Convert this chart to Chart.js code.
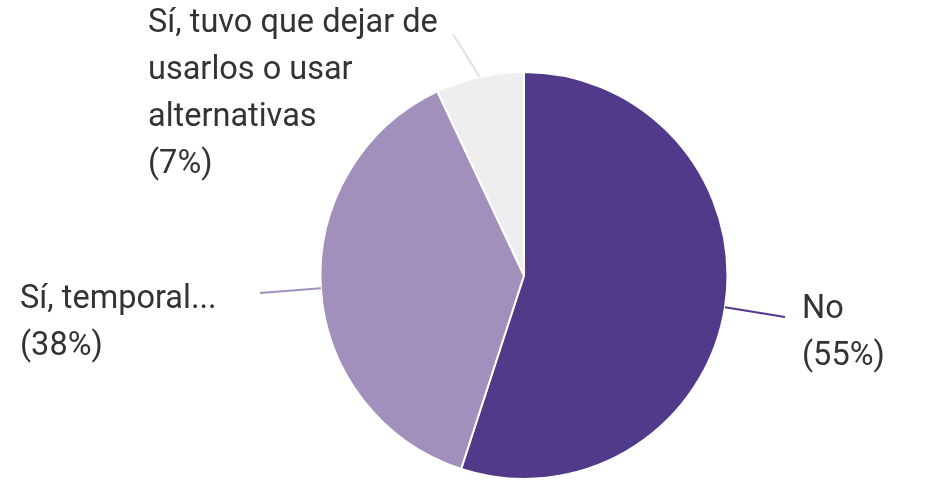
<!DOCTYPE html>
<html>
<head>
<meta charset="utf-8">
<script src="https://cdn.jsdelivr.net/npm/chart.js@4"></script>
<style>
    html, body { margin: 0; padding: 0; background: #fff; }
    #wrap { width: 948px; height: 480px; position: relative; }
</style>
</head>
<body>
<div id="wrap"><canvas id="pie"></canvas></div>
<script>
const labels = ['No', 'Sí, temporal...', 'Sí, tuvo que dejar de usarlos o usar alternativas'];
const values = [55, 38, 7];
const labelLines = [
    ['No', '(55%)'],
    ['Sí, temporal...', '(38%)'],
    ['Sí, tuvo que dejar de', 'usarlos o usar', 'alternativas', '(7%)']
];

const colors = [
    '#523a8a', // no
    '#a18fbc', // temporal
    '#eeeeee', // dejar de usarlos
];
const lineColors = ['#523a8a', '#a18fbc', '#e2e2e2'];

// where each label text block starts (x, first baseline) and where its leader ends
const textPos = [
    { x: 802, y: 318, endX: 785, endY: 317 },
    { x: 20, y: 308, endX: 260, endY: 293 },
    { x: 148, y: 32, endX: 453, endY: 34 }
];

const outerLabels = {
    id: 'outerLabels',
    afterDraw(chart) {
        const ctx = chart.ctx;
        const arcs = chart.getDatasetMeta(0).data;
        ctx.save();
        arcs.forEach((arc, i) => {
            const mid = (arc.startAngle + arc.endAngle) / 2;
            const sx = arc.x + Math.cos(mid) * arc.outerRadius;
            const sy = arc.y + Math.sin(mid) * arc.outerRadius;
            const p = textPos[i];
            ctx.strokeStyle = lineColors[i];
            ctx.lineWidth = 2;
            ctx.beginPath();
            ctx.moveTo(sx, sy);
            ctx.lineTo(p.endX, p.endY);
            ctx.stroke();

            ctx.fillStyle = '#333333';
            ctx.font = '32.5px Roboto';
            ctx.textAlign = 'left';
            ctx.textBaseline = 'alphabetic';
            labelLines[i].forEach((t, j) => {
                ctx.fillText(t, p.x, p.y + j * 47);
            });
        });
        ctx.restore();
    }
};

new Chart(document.getElementById('pie').getContext('2d'), {
    type: 'pie',
    data: {
        labels,
        datasets: [{
            data: values,
            backgroundColor: colors,
            borderColor: '#ffffff',
            borderWidth: 2
        }]
    },
    options: {
        responsive: true,
        maintainAspectRatio: false,
        animation: false,
        layout: { padding: { top: 71, bottom: 0, left: 319, right: 219 } },
        plugins: {
            legend: { display: false },
            tooltip: { enabled: false }
        }
    },
    plugins: [outerLabels]
});
</script>
</body>
</html>
